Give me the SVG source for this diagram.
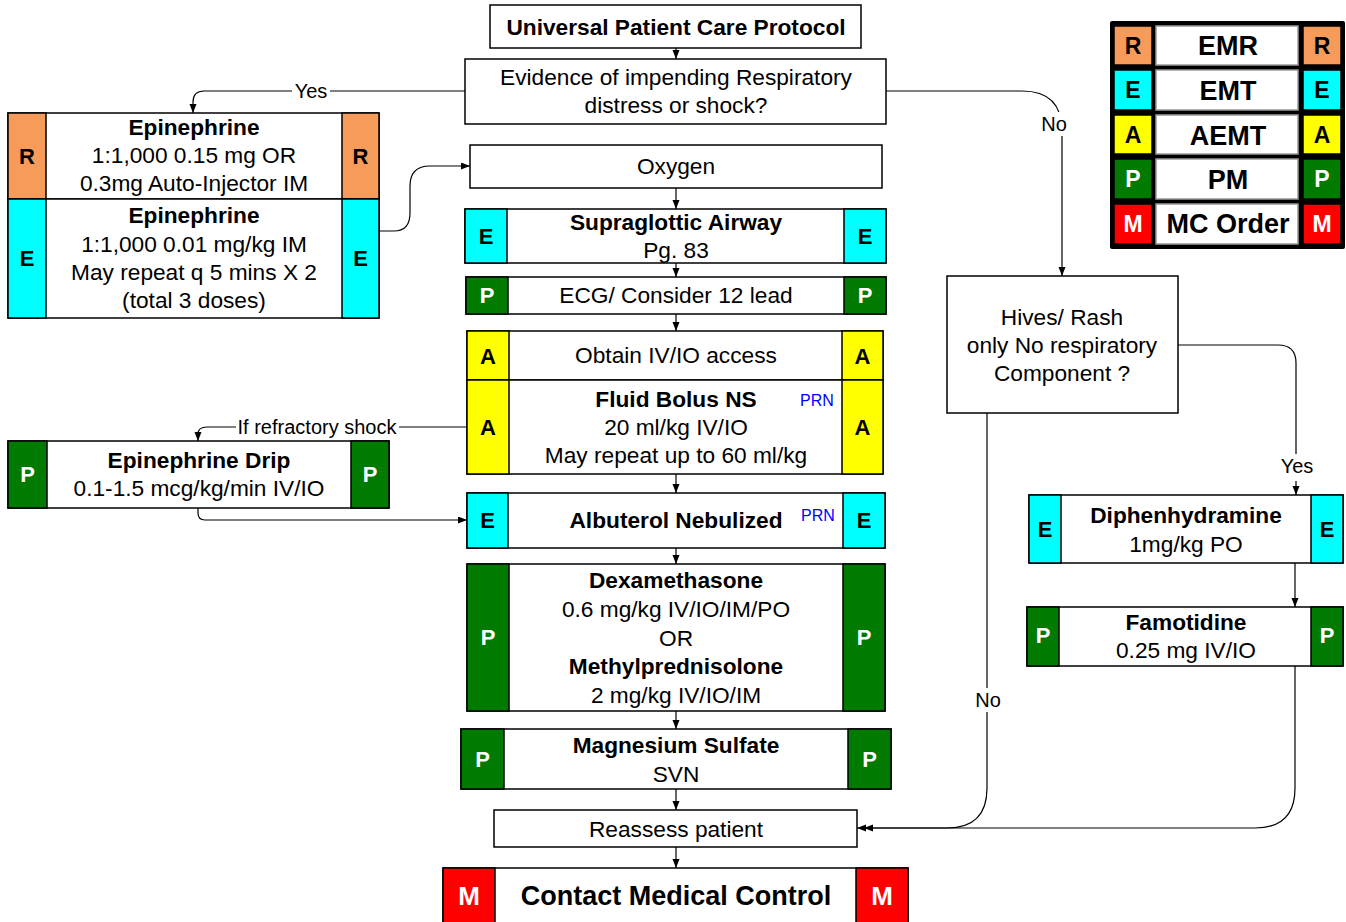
<svg xmlns="http://www.w3.org/2000/svg" width="1346" height="922" viewBox="0 0 1346 922">
<style>
.bx{fill:#fff;stroke:#000;stroke-width:1.5}
.cR{fill:#F79B5B;stroke:#000;stroke-width:1.5}
.cE{fill:#00FFFF;stroke:#000;stroke-width:1.5}
.cA{fill:#FFFF00;stroke:#000;stroke-width:1.5}
.cP{fill:#007A00;stroke:#000;stroke-width:1.5}
.cM{fill:#FF0000;stroke:#000;stroke-width:1.5}
text{font-family:"Liberation Sans",Arial,sans-serif;text-anchor:middle;fill:#000}
.t{font-size:22.7px}
.b{font-size:22.7px;font-weight:bold}
.L{font-size:22px;font-weight:bold}
.LL{font-size:23px;font-weight:bold}
.w{fill:#fff}
.prn{font-size:16px;fill:#0000FF;text-anchor:start}
.lab{font-size:20px}
.cn{fill:none;stroke:#000;stroke-width:1.2}
.lg{font-size:27px;font-weight:bold}
</style>
<defs>
<marker id="ah" markerUnits="userSpaceOnUse" markerWidth="10" markerHeight="8" refX="9" refY="3.5" orient="auto">
<path d="M0,0 L9,3.5 L0,7 z" fill="#000"/>
</marker>
</defs>

<g id="connectors">
<path class="cn" d="M676,48 V59" marker-end="url(#ah)"/>
<path class="cn" d="M676,188 V209" marker-end="url(#ah)"/>
<path class="cn" d="M676,263 V277" marker-end="url(#ah)"/>
<path class="cn" d="M676,314 V331" marker-end="url(#ah)"/>
<path class="cn" d="M676,474 V493" marker-end="url(#ah)"/>
<path class="cn" d="M676,548 V564" marker-end="url(#ah)"/>
<path class="cn" d="M676,711 V729" marker-end="url(#ah)"/>
<path class="cn" d="M676,789 V810" marker-end="url(#ah)"/>
<path class="cn" d="M676,847 V868" marker-end="url(#ah)"/>
<path class="cn" d="M465,91 H204 Q193,91 193,102 V113" marker-end="url(#ah)"/>
<rect x="292" y="80" width="38" height="22" fill="#fff"/>
<text class="lab" x="311" y="98">Yes</text>
<path class="cn" d="M379,231 H394 Q410,231 410,213 V186 Q410,166 430,166 H470" marker-end="url(#ah)"/>
<path class="cn" d="M467,427 H207 Q198,427 198,434 V441" marker-end="url(#ah)"/>
<rect x="236" y="416" width="163" height="22" fill="#fff"/>
<text class="lab" x="317" y="434">If refractory shock</text>
<path class="cn" d="M198,508 V513 Q198,520 205,520 H467" marker-end="url(#ah)"/>
<path class="cn" d="M886,91 H1022 Q1062,91 1062,131 V276" marker-end="url(#ah)"/>
<rect x="1040" y="112" width="28" height="24" fill="#fff"/>
<text class="lab" x="1054" y="131">No</text>
<path class="cn" d="M1178,345 H1278 Q1296,345 1296,363 V495" marker-end="url(#ah)"/>
<rect x="1278" y="454" width="38" height="27" fill="#fff"/>
<text class="lab" x="1297" y="473">Yes</text>
<path class="cn" d="M1295,563 V607" marker-end="url(#ah)"/>
<path class="cn" d="M1295,666 V788 Q1295,828 1255,828 H857" marker-end="url(#ah)"/>
<path class="cn" d="M987,413 V788 Q987,828 947,828 H864" marker-end="url(#ah)"/>
<rect x="974" y="688" width="28" height="24" fill="#fff"/>
<text class="lab" x="988" y="707">No</text>
</g>

<g id="start">
<rect class="bx" x="490" y="5" width="371" height="43"/>
<text class="b" x="676" y="35">Universal Patient Care Protocol</text>
</g>

<g id="evidence">
<rect class="bx" x="465" y="59" width="421" height="65"/>
<text class="t" x="676" y="85">Evidence of impending Respiratory</text>
<text class="t" x="676" y="113">distress or shock?</text>
</g>

<g id="oxygen">
<rect class="bx" x="470" y="145" width="412" height="43"/>
<text class="t" x="676" y="174">Oxygen</text>
</g>

<g id="supraglottic">
<rect class="bx" x="465" y="209" width="421" height="54"/>
<rect class="cE" x="465" y="209" width="42" height="54"/>
<rect class="cE" x="844" y="209" width="42" height="54"/>
<text class="L" x="486" y="244">E</text>
<text class="L" x="865" y="244">E</text>
<text class="b" x="676" y="230">Supraglottic Airway</text>
<text class="t" x="676" y="258">Pg. 83</text>
</g>

<g id="ecg">
<rect class="bx" x="466" y="277" width="420" height="37"/>
<rect class="cP" x="466" y="277" width="42" height="37"/>
<rect class="cP" x="844" y="277" width="42" height="37"/>
<text class="L w" x="487" y="303">P</text>
<text class="L w" x="865" y="303">P</text>
<text class="t" x="676" y="303">ECG/ Consider 12 lead</text>
</g>

<g id="ivaccess">
<rect class="bx" x="467" y="331" width="416" height="49"/>
<rect class="cA" x="467" y="331" width="42" height="49"/>
<rect class="cA" x="842" y="331" width="41" height="49"/>
<text class="L" x="488" y="364">A</text>
<text class="L" x="862.5" y="364">A</text>
<text class="t" x="676" y="363">Obtain IV/IO access</text>
</g>

<g id="fluid">
<rect class="bx" x="467" y="380" width="416" height="94"/>
<rect class="cA" x="467" y="380" width="42" height="94"/>
<rect class="cA" x="842" y="380" width="41" height="94"/>
<text class="L" x="488" y="435">A</text>
<text class="L" x="862.5" y="435">A</text>
<text class="b" x="676" y="407">Fluid Bolus NS</text>
<text class="prn" x="800" y="406">PRN</text>
<text class="t" x="676" y="435">20 ml/kg IV/IO</text>
<text class="t" x="676" y="463">May repeat up to 60 ml/kg</text>
</g>

<g id="albuterol">
<rect class="bx" x="467" y="493" width="418" height="55"/>
<rect class="cE" x="467" y="493" width="41" height="55"/>
<rect class="cE" x="843" y="493" width="42" height="55"/>
<text class="L" x="487.5" y="528">E</text>
<text class="L" x="864" y="528">E</text>
<text class="b" x="676" y="528">Albuterol Nebulized</text>
<text class="prn" x="801" y="521">PRN</text>
</g>

<g id="dexamethasone">
<rect class="bx" x="467" y="564" width="418" height="147"/>
<rect class="cP" x="467" y="564" width="42" height="147"/>
<rect class="cP" x="843" y="564" width="42" height="147"/>
<text class="L w" x="488" y="645">P</text>
<text class="L w" x="864" y="645">P</text>
<text class="b" x="676" y="588">Dexamethasone</text>
<text class="t" x="676" y="617">0.6 mg/kg IV/IO/IM/PO</text>
<text class="t" x="676" y="646">OR</text>
<text class="b" x="676" y="674">Methylprednisolone</text>
<text class="t" x="676" y="703">2 mg/kg IV/IO/IM</text>
</g>

<g id="magnesium">
<rect class="bx" x="461" y="729" width="430" height="60"/>
<rect class="cP" x="461" y="729" width="43" height="60"/>
<rect class="cP" x="848" y="729" width="43" height="60"/>
<text class="L w" x="482.5" y="767">P</text>
<text class="L w" x="869.5" y="767">P</text>
<text class="b" x="676" y="753">Magnesium Sulfate</text>
<text class="t" x="676" y="782">SVN</text>
</g>

<g id="reassess">
<rect class="bx" x="494" y="810" width="363" height="37"/>
<text class="t" x="676" y="837">Reassess patient</text>
</g>

<g id="contact">
<rect class="bx" x="443" y="868" width="465" height="62"/>
<rect class="cM" x="443" y="868" width="52" height="62"/>
<rect class="cM" x="856" y="868" width="52" height="62"/>
<text class="w" x="469" y="905" style="font-size:26px;font-weight:bold">M</text>
<text class="w" x="882" y="905" style="font-size:26px;font-weight:bold">M</text>
<text class="lg" x="676" y="905">Contact Medical Control</text>
</g>

<g id="epi-r">
<rect class="bx" x="8" y="113" width="371" height="86"/>
<rect class="cR" x="8" y="113" width="38" height="86"/>
<rect class="cR" x="342" y="113" width="37" height="86"/>
<text class="L" x="27" y="164">R</text>
<text class="L" x="360.5" y="164">R</text>
<text class="b" x="194" y="135">Epinephrine</text>
<text class="t" x="194" y="163">1:1,000 0.15 mg OR</text>
<text class="t" x="194" y="191">0.3mg Auto-Injector IM</text>
</g>

<g id="epi-e">
<rect class="bx" x="8" y="199" width="371" height="119"/>
<rect class="cE" x="8" y="199" width="38" height="119"/>
<rect class="cE" x="342" y="199" width="37" height="119"/>
<text class="L" x="27" y="266">E</text>
<text class="L" x="360.5" y="266">E</text>
<text class="b" x="194" y="223">Epinephrine</text>
<text class="t" x="194" y="252">1:1,000 0.01 mg/kg IM</text>
<text class="t" x="194" y="280">May repeat q 5 mins X 2</text>
<text class="t" x="194" y="308">(total 3 doses)</text>
</g>

<g id="epi-drip">
<rect class="bx" x="8" y="441" width="381" height="67"/>
<rect class="cP" x="8" y="441" width="39" height="67"/>
<rect class="cP" x="351" y="441" width="38" height="67"/>
<text class="L w" x="27.5" y="482">P</text>
<text class="L w" x="370" y="482">P</text>
<text class="b" x="199" y="468">Epinephrine Drip</text>
<text class="t" x="199" y="496">0.1-1.5 mcg/kg/min IV/IO</text>
</g>

<g id="hives">
<rect class="bx" x="947" y="276" width="231" height="137"/>
<text class="t" x="1062" y="325">Hives/ Rash</text>
<text class="t" x="1062" y="353">only No respiratory</text>
<text class="t" x="1062" y="381">Component ?</text>
</g>

<g id="diphenhydramine">
<rect class="bx" x="1029" y="495" width="314" height="68"/>
<rect class="cE" x="1029" y="495" width="32" height="68"/>
<rect class="cE" x="1311" y="495" width="32" height="68"/>
<text class="L" x="1045" y="537">E</text>
<text class="L" x="1327" y="537">E</text>
<text class="b" x="1186" y="523">Diphenhydramine</text>
<text class="t" x="1186" y="552">1mg/kg PO</text>
</g>

<g id="famotidine">
<rect class="bx" x="1027" y="607" width="316" height="59"/>
<rect class="cP" x="1027" y="607" width="32" height="59"/>
<rect class="cP" x="1311" y="607" width="32" height="59"/>
<text class="L w" x="1043" y="643">P</text>
<text class="L w" x="1327" y="643">P</text>
<text class="b" x="1186" y="630">Famotidine</text>
<text class="t" x="1186" y="658">0.25 mg IV/IO</text>
</g>

<g id="legend">
<rect x="1110" y="21" width="235" height="228" rx="2" fill="#000"/>
<rect class="cR" x="1114" y="26" width="38" height="39"/>
<rect class="bx" x="1156" y="26" width="142" height="39" style="stroke:#999"/>
<rect class="cR" x="1303" y="26" width="38" height="39"/>
<rect class="cE" x="1114" y="70" width="38" height="40"/>
<rect class="bx" x="1156" y="70" width="142" height="40" style="stroke:#999"/>
<rect class="cE" x="1303" y="70" width="38" height="40"/>
<rect class="cA" x="1114" y="115" width="38" height="39"/>
<rect class="bx" x="1156" y="115" width="142" height="39" style="stroke:#999"/>
<rect class="cA" x="1303" y="115" width="38" height="39"/>
<rect class="cP" x="1114" y="159" width="38" height="40"/>
<rect class="bx" x="1156" y="159" width="142" height="40" style="stroke:#999"/>
<rect class="cP" x="1303" y="159" width="38" height="40"/>
<rect class="cM" x="1114" y="204" width="38" height="40"/>
<rect class="bx" x="1156" y="204" width="142" height="40" style="stroke:#999"/>
<rect class="cM" x="1303" y="204" width="38" height="40"/>
<text class="LL" x="1133" y="54">R</text>
<text class="LL" x="1322" y="54">R</text>
<text class="LL" x="1133" y="98">E</text>
<text class="LL" x="1322" y="98">E</text>
<text class="LL" x="1133" y="143">A</text>
<text class="LL" x="1322" y="143">A</text>
<text class="LL w" x="1133" y="187">P</text>
<text class="LL w" x="1322" y="187">P</text>
<text class="LL w" x="1133" y="232">M</text>
<text class="LL w" x="1322" y="232">M</text>
<text class="lg" x="1228" y="55">EMR</text>
<text class="lg" x="1228" y="100">EMT</text>
<text class="lg" x="1228" y="145">AEMT</text>
<text class="lg" x="1228" y="189">PM</text>
<text class="lg" x="1228" y="233">MC Order</text>
</g>
</svg>
